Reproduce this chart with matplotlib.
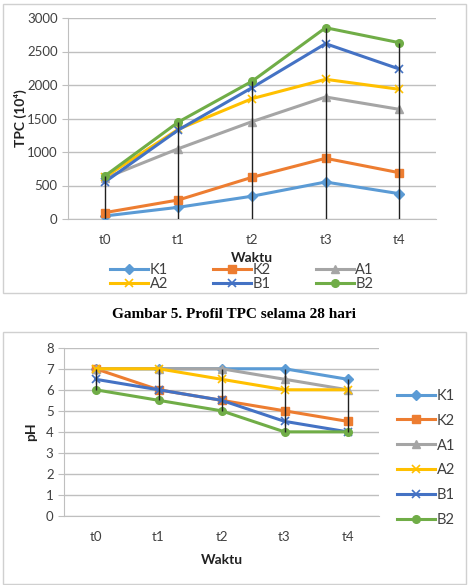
import numpy as np
import matplotlib
matplotlib.use("Agg")
import matplotlib.pyplot as plt
from matplotlib.patches import Rectangle

plt.rcParams['font.family'] = ['Lato', 'DejaVu Sans']

waktu = ['t0', 't1', 't2', 't3', 't4']
seri = ['K1', 'K2', 'A1', 'A2', 'B1', 'B2']
warna = ['#5B9BD5', '#ED7D31', '#A5A5A5', '#FFC000', '#4472C4', '#70AD47']
marker = ['D', 's', '^', 'x', 'x', 'o']

# TPC (10^4)
tpc_K1 = [45, 175, 340, 552, 378]
tpc_K2 = [95, 284, 622, 906, 691]
tpc_A1 = [610, 1050, 1453, 1821, 1637]
tpc_A2 = [625, 1340, 1796, 2085, 1936]
tpc_B1 = [552, 1330, 1960, 2617, 2239]
tpc_B2 = [642, 1448, 2055, 2855, 2632]

# pH
ph_K1 = [7, 7, 7, 7, 6.5]
ph_K2 = [7, 6, 5.5, 5, 4.5]
ph_A1 = [7, 7, 7, 6.5, 6]
ph_A2 = [7, 7, 6.5, 6, 6]
ph_B1 = [6.5, 6, 5.5, 4.5, 4]
ph_B2 = [6, 5.5, 5, 4, 4]

tpc = [tpc_K1, tpc_K2, tpc_A1, tpc_A2, tpc_B1, tpc_B2]
ph = [ph_K1, ph_K2, ph_A1, ph_A2, ph_B1, ph_B2]

W, H = 471, 585
fig = plt.figure(figsize=(W / 100, H / 100), dpi=100)

# kotak bingkai
for (x0, y0, x1, y1) in [(3, 4, 466, 293), (3, 332, 466, 584)]:
    fig.patches.append(Rectangle((x0 / W, 1 - y1 / H), (x1 - x0) / W, (y1 - y0) / H,
                                 transform=fig.transFigure, fill=False,
                                 edgecolor='#D0D0D0', lw=1))


def gaya(ax, ymax, step):
    ax.set_xlim(-0.5, 4.5)
    ax.set_ylim(0, ymax)
    ax.set_yticks(np.arange(0, ymax + step / 2, step))
    ax.set_xticks(range(5))
    ax.set_xticklabels(waktu)
    ax.grid(axis='y', color='#BFBFBF', lw=1)
    ax.set_axisbelow(True)
    for s in ['top', 'right']:
        ax.spines[s].set_visible(False)
    ax.spines['left'].set_color('#BFBFBF')
    ax.spines['bottom'].set_color('#BFBFBF')
    ax.tick_params(axis='y', length=4, color='#BFBFBF', labelsize=9.5, labelcolor='#404040')
    ax.tick_params(axis='x', length=0, labelsize=9.5, labelcolor='#404040', pad=11)


def gambar(ax, data):
    x = np.arange(5)
    handles = []
    for nama, y, c, m in zip(seri, data, warna, marker):
        ms = 5.5 if m != 'x' else 6
        h, = ax.plot(x, y, color=c, lw=2.2, marker=m, ms=ms, mew=1.2 if m == 'x' else 1,
                     label=nama, zorder=3)
        if nama == 'B1':
            ax.plot(x, y, ls='none', marker='|', ms=ms, color=c, mew=1, zorder=3)
        handles.append(h)
    return handles


# grafik TPC
ax1 = fig.add_axes([68 / W, 1 - 219 / H, (436 - 68) / W, (219 - 18) / H])
gaya(ax1, 3000, 500)
h1 = gambar(ax1, tpc)
arr = np.array(tpc)
ax1.vlines(np.arange(5), 0, arr.max(axis=0), color='#202020', lw=1, zorder=4)
ax1.set_xlabel('Waktu', fontsize=10, fontweight='bold', labelpad=4, color='#222222')
ax1.set_ylabel('TPC (10⁴)', fontsize=10, fontweight='bold', labelpad=0, color='#222222')
# urutan baris: K1 K2 A1 / A2 B1 B2
urut = [h1[0], h1[3], h1[1], h1[4], h1[2], h1[5]]
ax1.legend(handles=urut, loc='center', bbox_to_anchor=(242 / W, 1 - 277 / H),
           bbox_transform=fig.transFigure, ncol=3, frameon=False, fontsize=10.5,
           handlelength=2.6, columnspacing=3.1, handletextpad=0.1, labelspacing=0.0,
           borderpad=0, labelcolor='#404040')

fig.text(234 / W, 1 - 314 / H, 'Gambar 5. Profil TPC selama 28 hari',
         family='Liberation Serif', fontweight='bold', fontsize=11, ha='center', va='center')

# grafik pH
ax2 = fig.add_axes([64 / W, 1 - 516 / H, (379 - 64) / W, (516 - 347.7) / H])
gaya(ax2, 8, 1)
h2 = gambar(ax2, ph)
arr = np.array(ph)
ax2.vlines(np.arange(5), arr.min(axis=0), arr.max(axis=0), color='#202020', lw=1, zorder=4)
ax2.set_xlabel('Waktu', fontsize=10, fontweight='bold', labelpad=8, color='#222222')
ax2.set_ylabel('pH', fontsize=10, fontweight='bold', labelpad=6, color='#222222')
ax2.legend(handles=h2, loc='center', bbox_to_anchor=(426 / W, 1 - 458 / H),
           bbox_transform=fig.transFigure, ncol=1, frameon=False, fontsize=10.5,
           handlelength=2.6, handletextpad=0.1, labelspacing=0.75,
           borderpad=0, labelcolor='#404040')

fig.savefig('out.png', dpi=100)
